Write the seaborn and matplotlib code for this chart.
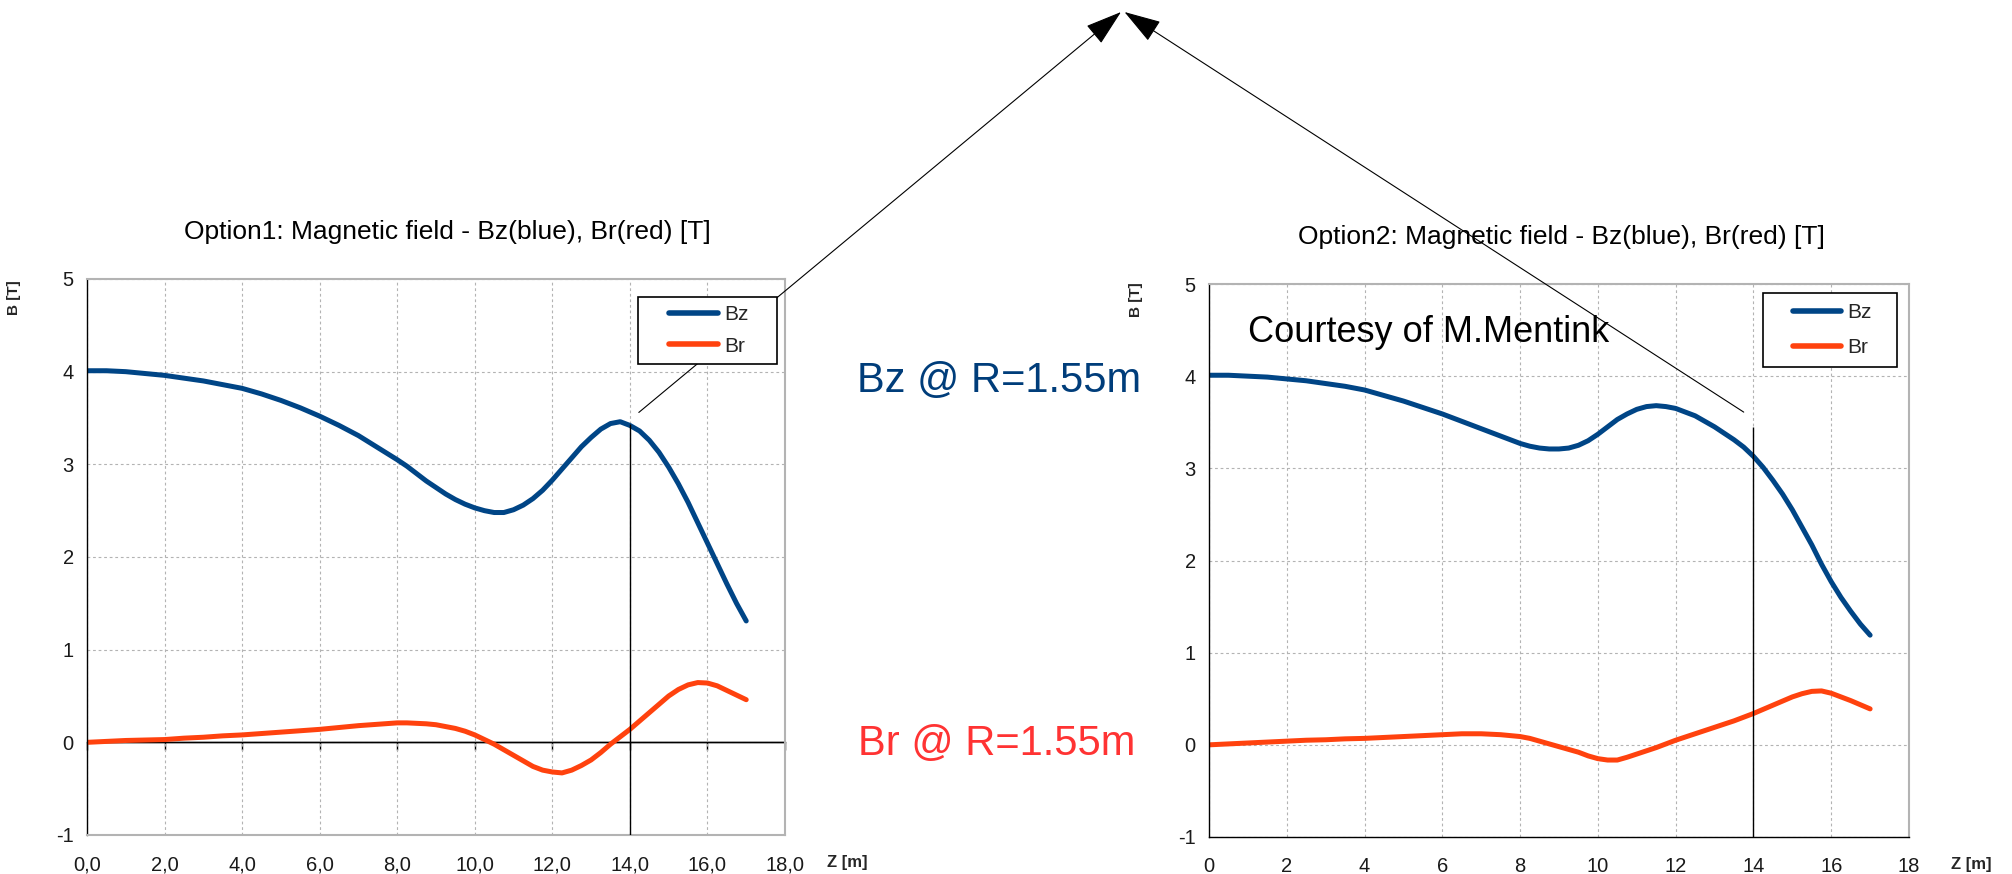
import matplotlib
matplotlib.use("Agg")
import matplotlib.pyplot as plt
import pandas as pd
import seaborn as sns
from matplotlib.legend_handler import HandlerLine2D

# ---------------- data ----------------
z_m = [0.0, 0.5, 1.0, 1.5, 2.0, 2.5, 3.0, 3.5, 4.0, 4.5, 5.0, 5.5, 6.0, 6.5,
       7.0, 7.5,
       8.0, 8.25, 8.5, 8.75, 9.0, 9.25, 9.5, 9.75, 10.0, 10.25, 10.5, 10.75,
       11.0, 11.25, 11.5, 11.75, 12.0, 12.25, 12.5, 12.75, 13.0, 13.25,
       13.5, 13.75, 14.0, 14.25, 14.5, 14.75, 15.0, 15.25, 15.5, 15.75,
       16.0, 16.25, 16.5, 16.75, 17.0]

opt1_bz = [4.01, 4.01, 4.00, 3.98, 3.96, 3.93, 3.90, 3.86, 3.82, 3.76, 3.69,
           3.61, 3.52, 3.42, 3.31, 3.18,
           3.05, 2.98, 2.90, 2.82, 2.75, 2.68, 2.62, 2.57, 2.53, 2.50, 2.48,
           2.48, 2.51, 2.56, 2.63, 2.72, 2.83, 2.95, 3.07, 3.19, 3.29, 3.38,
           3.44, 3.46, 3.42, 3.36, 3.26, 3.13, 2.97, 2.79, 2.59, 2.37, 2.15,
           1.93, 1.71, 1.50, 1.31]
opt1_br = [0.00, 0.01, 0.02, 0.025, 0.03, 0.045, 0.055, 0.07, 0.08, 0.095,
           0.11, 0.125, 0.14, 0.16, 0.18, 0.195,
           0.21, 0.21, 0.205, 0.20, 0.19, 0.17, 0.15, 0.12, 0.08, 0.03, -0.02,
           -0.08, -0.14, -0.20, -0.26, -0.30, -0.32, -0.33, -0.30, -0.25,
           -0.19, -0.11, -0.02, 0.06, 0.14, 0.23, 0.32, 0.41, 0.50, 0.57,
           0.62, 0.645, 0.64, 0.61, 0.56, 0.51, 0.46]

opt2_bz = [4.01, 4.01, 4.00, 3.99, 3.97, 3.95, 3.92, 3.89, 3.85, 3.79, 3.73,
           3.66, 3.59, 3.51, 3.43, 3.35,
           3.27, 3.24, 3.22, 3.21, 3.21, 3.22, 3.25, 3.30, 3.37, 3.45, 3.53,
           3.59, 3.64, 3.67, 3.68, 3.67, 3.65, 3.61, 3.57, 3.51, 3.45, 3.38,
           3.31, 3.23, 3.13, 3.01, 2.87, 2.72, 2.55, 2.36, 2.17, 1.96, 1.77,
           1.60, 1.45, 1.31, 1.19]
opt2_br = [0.00, 0.01, 0.02, 0.03, 0.04, 0.05, 0.055, 0.065, 0.07, 0.08, 0.09,
           0.10, 0.11, 0.12, 0.12, 0.11,
           0.09, 0.07, 0.04, 0.01, -0.02, -0.05, -0.08, -0.12, -0.15, -0.165,
           -0.165, -0.135, -0.10, -0.065, -0.03, 0.01, 0.05, 0.085, 0.12,
           0.155, 0.19, 0.225, 0.26, 0.30, 0.34, 0.385, 0.43, 0.475, 0.52,
           0.555, 0.58, 0.585, 0.56, 0.52, 0.48, 0.435, 0.39]

series_names = ["Bz", "Br"]
series_colors = {"Bz": "#004586", "Br": "#ff420e"}

x_ticks = [0, 2, 4, 6, 8, 10, 12, 14, 16, 18]
x_labels_opt1 = ["0,0", "2,0", "4,0", "6,0", "8,0", "10,0", "12,0", "14,0", "16,0", "18,0"]
x_labels_opt2 = ["0", "2", "4", "6", "8", "10", "12", "14", "16", "18"]
y_ticks = [-1, 0, 1, 2, 3, 4, 5]
y_labels = ["-1", "0", "1", "2", "3", "4", "5"]

title_opt1 = "Option1: Magnetic field - Bz(blue), Br(red) [T]"
title_opt2 = "Option2: Magnetic field - Bz(blue), Br(red) [T]"
marker_z = 14.0
marker_top = [3.43, 3.45]
pointer_start = [(14.23, 3.56), (13.75, 3.61)]

# ---------------- style ----------------
sns.set_style("white")
plt.rcParams["font.family"] = ["Liberation Sans", "DejaVu Sans"]

W, H = 2012, 874
fig = plt.figure(figsize=(W / 100, H / 100), dpi=100)
fig.patch.set_facecolor("white")


def px_axes(x0, x1, ytop, ybot):
    return [x0 / W, 1 - ybot / H, (x1 - x0) / W, (ybot - ytop) / H]


ax1 = fig.add_axes(px_axes(87, 785, 279, 835))
ax2 = fig.add_axes(px_axes(1209, 1909, 284, 837))

grey = "#b3b3b3"


def make_df(bz, br):
    return pd.DataFrame({
        "z": z_m * 2,
        "B": bz + br,
        "comp": ["Bz"] * len(z_m) + ["Br"] * len(z_m),
    })


def style_axes(ax, xlabels, bottom_black):
    ax.set_xlim(0, 18)
    ax.set_ylim(-1, 5)
    ax.set_xticks(x_ticks)
    ax.set_xticklabels(xlabels)
    ax.set_yticks(y_ticks)
    ax.set_yticklabels(y_labels)
    ax.grid(True, color=grey, linestyle=(0, (2.5, 2.5)), linewidth=0.8)
    ax.set_axisbelow(True)
    ax.tick_params(axis="both", direction="out", length=6, width=1,
                   color="black", labelsize=14.5, labelcolor="#1a1a1a")
    ax.tick_params(axis="x", pad=8.5)
    ax.tick_params(axis="y", pad=3.5)
    for s in ["top", "right"]:
        ax.spines[s].set_color(grey)
        ax.spines[s].set_linewidth(1.5)
    ax.spines["left"].set_color("black")
    ax.spines["left"].set_linewidth(1.0)
    ax.spines["bottom"].set_color("black" if bottom_black else grey)
    ax.spines["bottom"].set_linewidth(1.0 if bottom_black else 1.5)
    ax.set_ylabel("B [T]", fontsize=11, fontweight="bold", rotation=90)
    ax.set_xlabel("Z [m]", fontsize=12, fontweight="bold", va="center")


def draw(ax, bz, br, title, xlabels, bottom_black, leg_box, leg_pad, leg_space,
         leg_xpad, leg_hl, title_x, ylab_y, top_val):
    df = make_df(bz, br)
    sns.lineplot(data=df, x="z", y="B", hue="comp", hue_order=series_names,
                 palette=series_colors, linewidth=3.6, ax=ax, legend=False,
                 sort=False)
    style_axes(ax, xlabels, bottom_black)
    ax.set_title(title, fontsize=19, pad=29, x=title_x, color="black")
    ax.yaxis.set_label_coords(-0.094, ylab_y)
    ax.xaxis.set_label_coords(1.089, -0.05)
    # vertical marker line
    ax.vlines(marker_z, -1, top_val, color="black", linewidth=1.0, zorder=5)
    # legend
    handles = ax.get_lines()[:2]
    leg = ax.legend(handles, series_names, loc="upper left",
                    bbox_to_anchor=leg_box, mode="expand", borderaxespad=0,
                    fontsize=15, frameon=True, fancybox=False,
                    edgecolor="black", framealpha=1, borderpad=leg_pad,
                    labelspacing=leg_space, handlelength=leg_hl,
                    handletextpad=0.3,
                    handler_map={h: HandlerLine2D(xpad=leg_xpad) for h in handles})
    leg.get_frame().set_linewidth(1.2)
    for lh in leg.get_lines():
        lh.set_linewidth(4)


draw(ax1, opt1_bz, opt1_br, title_opt1, x_labels_opt1, False,
     (0.789, 0.868, 0.199, 0.1), 0.4, 0.6, 1.1, 3.45, 0.517, 0.967,
     marker_top[0])
draw(ax2, opt2_bz, opt2_br, title_opt2, x_labels_opt2, True,
     (0.791, 0.884, 0.192, 0.1), 0.5, 0.75, 0.95, 3.25, 0.503, 0.971,
     marker_top[1])

# black zero line with ticks in Option1
ax1.axhline(0, color="black", linewidth=1.0, zorder=1.5)
sec = ax1.secondary_xaxis(0, transform=ax1.transData)
sec.set_xticks(x_ticks)
sec.set_xticklabels([])
sec.tick_params(axis="x", direction="out", length=6, width=1, color="black")
sec.spines["bottom"].set_color("black")
sec.spines["bottom"].set_linewidth(1.0)

# arrows from both plots to the common apex
apex = [(1121 / W, 1 - 12 / H), (1124.5 / W, 1 - 12 / H)]
for ax, st, ap in [(ax1, pointer_start[0], apex[0]), (ax2, pointer_start[1], apex[1])]:
    ax.annotate("", xy=ap, xycoords="figure fraction", xytext=st,
                textcoords="data", annotation_clip=False,
                arrowprops=dict(arrowstyle="-|>,head_length=1.17,head_width=0.37",
                                mutation_scale=20, color="black", lw=0.8,
                                shrinkA=0, shrinkB=0))

# free texts
ax2.text(1.0, 4.37, "Courtesy of M.Mentink", fontsize=26, color="black",
         va="baseline", ha="left")
fig.text(857 / W, 1 - 392 / H, "Bz @ R=1.55m", fontsize=30, color="#003d7a",
         va="baseline", ha="left")
fig.text(858 / W, 1 - 755 / H, "Br @ R=1.55m", fontsize=30, color="#ff3333",
         va="baseline", ha="left")

fig.savefig("out.png", dpi=100, facecolor="white")
